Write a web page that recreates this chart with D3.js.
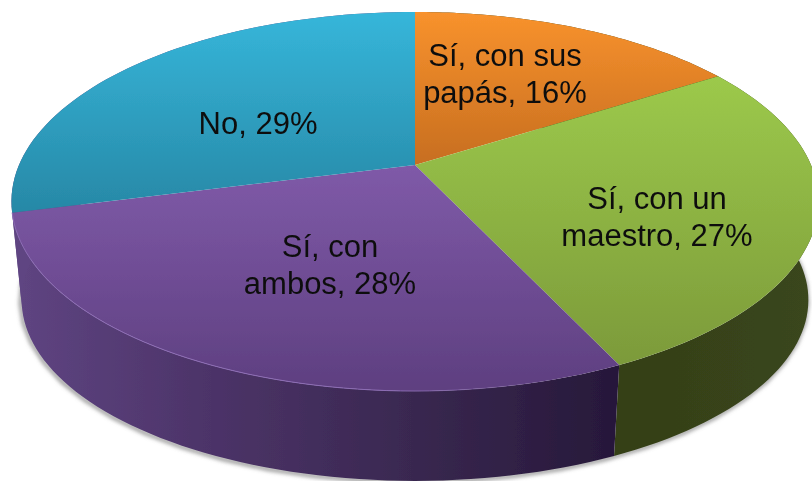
<!DOCTYPE html>
<html><head><meta charset="utf-8">
<style>html,body{margin:0;background:#fff;overflow:hidden}svg{display:block}</style>
<script src="https://cdnjs.cloudflare.com/ajax/libs/d3/7.9.0/d3.min.js"></script>
</head><body><svg id="c" width="812" height="481"></svg>
<script>
const categories=["Sí, con sus papás","Sí, con un maestro","Sí, con ambos","No"];
const values=[16,27,28,29];
const labelLines=[["Sí, con sus","papás, 16%"],["Sí, con un","maestro, 27%"],["Sí, con","ambos, 28%"],["No, 29%"]];
const labelAnchors=[[505,66],[657,209],[330,257],[258,134]];
const topStops=[["#f8922d","#c76e20"],["#9cc94b","#7c9a3a"],["#7f5aa8","#5e3f80"],["#36b6da","#2788a6"]];
const topRange=[[12,165],[77,365],[165,391],[12,213]];
const wallStops=[["#343f18","#343f18"],["#3a461b","#343f18"],["#5f4582","#4c3368","#392850","#27183a"],["#5f4582","#5f4582"]];
const wallRange=[[0,812],[812,619],[12,615],[0,812]];

const persp=0.1926;
const sx=d3.scaleLinear().domain([-1,1]);
const sy=d3.scaleLinear().domain([-1,1]);
const topX=sx.copy().range([415-396,415+396]),topY=sy.copy().range([165-182.5,165+182.5]);
const botX=sx.copy().range([415-386,415+386]),botY=sy.copy().range([265-174.3,265+174.3]);
const proj=(a,X,Y)=>{const x=Math.sin(a),y=-Math.cos(a),k=1-persp*y;
  return [X(0)+(X(x)-X(0))/k,Y(0)+(Y(y)-Y(0))/k];};
const line=d3.line();
const pie=d3.pie().sort(null).value(d=>d)(values);
const samples=(a0,a1)=>d3.range(0,61).map(i=>a0+(a1-a0)*i/60);
const arcPts=(a0,a1,X,Y)=>samples(a0,a1).map(a=>proj(a,X,Y));

const svg=d3.select("#c");
const defs=svg.append("defs");
defs.append("filter").attr("id","shadow").attr("x","-10%").attr("y","-10%").attr("width","120%").attr("height","120%")
  .append("feGaussianBlur").attr("stdDeviation",2);
defs.append("filter").attr("id","soft").attr("x","-5%").attr("y","-5%").attr("width","110%").attr("height","110%")
  .append("feGaussianBlur").attr("stdDeviation",0.6);
defs.append("filter").attr("id","softText").append("feGaussianBlur").attr("stdDeviation",0.35);
const grad=(id,stops,r,horizontal)=>{const g=defs.append("linearGradient").attr("id",id).attr("gradientUnits","userSpaceOnUse")
  .attr("x1",horizontal?r[0]:0).attr("x2",horizontal?r[1]:0).attr("y1",horizontal?0:r[0]).attr("y2",horizontal?0:r[1]);
  g.selectAll("stop").data(stops).join("stop").attr("offset",(d,i)=>i/(stops.length-1)).attr("stop-color",d=>d);};
pie.forEach((d,i)=>{grad("t"+i,topStops[i],topRange[i],false);grad("w"+i,wallStops[i],wallRange[i],true);});
const rimG=defs.append("linearGradient").attr("id","rim").attr("gradientUnits","userSpaceOnUse")
  .attr("x1",12).attr("x2",560).attr("y1",0).attr("y2",0);
rimG.append("stop").attr("offset",0).attr("stop-color","#8c6cb4");
rimG.append("stop").attr("offset",0.7).attr("stop-color","#8c6cb4");
rimG.append("stop").attr("offset",1).attr("stop-color","#8c6cb4").attr("stop-opacity",0);

// soft shadow hugging the lower edge
svg.append("path").attr("d",line(arcPts(0,2*Math.PI,botX,botY))+"Z")
  .attr("fill","none").attr("stroke","#777").attr("stroke-width",3)
  .attr("filter","url(#shadow)").attr("transform","translate(-1,1)");

const chart=svg.append("g").attr("filter","url(#soft)");
// walls
chart.selectAll("path.wall").data(pie).join("path").attr("class","wall")
  .attr("fill",(d,i)=>`url(#w${i})`)
  .attr("d",d=>line(arcPts(d.startAngle,d.endAngle,topX,topY).concat(arcPts(d.startAngle,d.endAngle,botX,botY).reverse()))+"Z");
// top faces
chart.selectAll("path.top").data(pie).join("path").attr("class","top")
  .attr("fill",(d,i)=>`url(#t${i})`)
  .attr("d",d=>line([[topX(0),topY(0)]].concat(arcPts(d.startAngle,d.endAngle,topX,topY)))+"Z");
// rim highlight along the front of the purple slice
const rimSlice=pie[2];
chart.append("path").attr("fill","none").attr("stroke","url(#rim)").attr("stroke-width",1)
  .attr("d",line(arcPts(rimSlice.startAngle,rimSlice.endAngle,topX,topY)));

// labels
const labels=svg.append("g").attr("font-family","'Liberation Sans',Arial,sans-serif").attr("font-size",31)
  .attr("fill","#111").attr("text-anchor","middle").attr("filter","url(#softText)");
labels.selectAll("text").data(labelLines).join("text")
  .attr("data-category",(d,i)=>categories[i])
  .each(function(lines,i){d3.select(this).selectAll("tspan").data(lines).join("tspan")
    .attr("x",labelAnchors[i][0]).attr("y",(l,j)=>labelAnchors[i][1]+j*37).text(l=>l);});
</script></body></html>
